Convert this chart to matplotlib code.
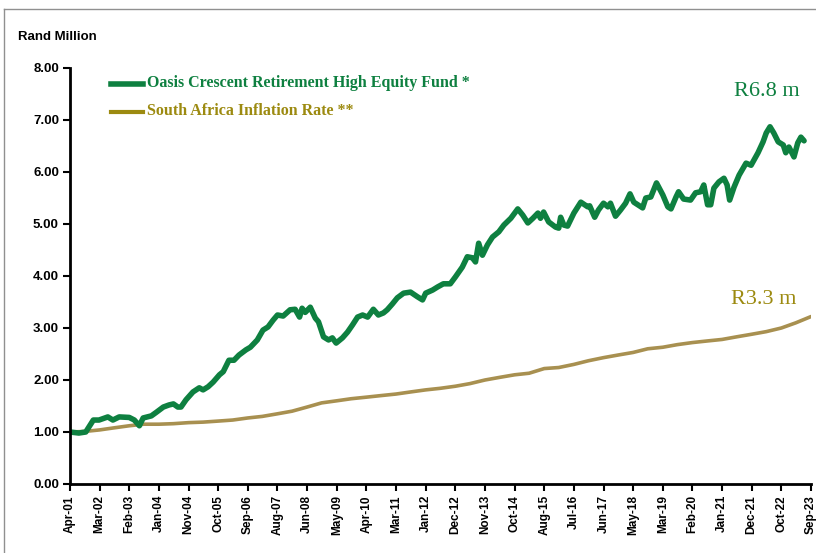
import matplotlib.pyplot as plt
from matplotlib.lines import Line2D

# weekly index (ticks every 47 weeks)
tick_labels = ["Apr-01", "Mar-02", "Feb-03", "Jan-04", "Nov-04", "Oct-05", "Sep-06",
               "Aug-07", "Jun-08", "May-09", "Apr-10", "Mar-11", "Jan-12", "Dec-12",
               "Nov-13", "Oct-14", "Aug-15", "Jul-16", "Jun-17", "May-18", "Mar-19",
               "Feb-20", "Jan-21", "Dec-21", "Oct-22", "Sep-23"]
weeks_per_tick = 47

fund_weeks = [0, 14, 25, 37, 46, 60, 68, 78, 94, 102, 110, 116, 129, 137, 148, 157, 164,
              171, 176, 184, 195, 205, 211, 219, 227, 237, 243, 252, 260, 268, 279, 286,
              297, 306, 314, 322, 329, 338, 349, 357, 364, 368, 373, 381, 389, 394, 402,
              410, 416, 422, 432, 440, 448, 456, 464, 472, 481, 489, 497, 503, 511, 519,
              529, 540, 551, 559, 564, 575, 583, 592, 603, 611, 622, 630, 638, 643, 648,
              654, 662, 670, 680, 688, 699, 710, 718, 726, 734, 742, 746, 751, 759, 770,
              775, 778, 783, 789, 799, 810, 821, 824, 832, 838, 846, 853, 857, 865, 873,
              881, 888, 894, 908, 913, 921, 930, 940, 948, 953, 961, 965, 973, 984, 992,
              1000, 1005, 1011, 1016, 1021, 1029, 1037, 1042, 1046, 1053, 1061, 1072,
              1080, 1091, 1099, 1104, 1110, 1116, 1123, 1131, 1135, 1140, 1148, 1154,
              1159, 1164]
fund_values = [1.00, 0.98, 1.00, 1.23, 1.23, 1.29, 1.23, 1.29, 1.28, 1.23, 1.12, 1.27,
               1.31, 1.38, 1.48, 1.52, 1.54, 1.48, 1.48, 1.62, 1.77, 1.85, 1.81, 1.87,
               1.96, 2.10, 2.16, 2.38, 2.38, 2.48, 2.58, 2.63, 2.77, 2.96, 3.02, 3.15,
               3.25, 3.23, 3.35, 3.36, 3.21, 3.38, 3.30, 3.40, 3.19, 3.12, 2.83, 2.77,
               2.81, 2.71, 2.81, 2.92, 3.06, 3.21, 3.25, 3.21, 3.36, 3.25, 3.29, 3.35,
               3.46, 3.58, 3.67, 3.69, 3.60, 3.54, 3.67, 3.73, 3.79, 3.85, 3.85, 3.98,
               4.17, 4.37, 4.35, 4.27, 4.63, 4.40, 4.60, 4.75, 4.85, 4.98, 5.11, 5.29,
               5.17, 5.02, 5.11, 5.21, 5.11, 5.23, 5.04, 4.94, 4.92, 5.13, 4.98, 4.96,
               5.21, 5.42, 5.33, 5.35, 5.13, 5.27, 5.40, 5.33, 5.40, 5.15, 5.27, 5.40,
               5.58, 5.42, 5.31, 5.50, 5.52, 5.79, 5.56, 5.33, 5.29, 5.52, 5.62, 5.48,
               5.46, 5.60, 5.62, 5.75, 5.37, 5.37, 5.69, 5.81, 5.88, 5.75, 5.46, 5.71,
               5.94, 6.17, 6.13, 6.37, 6.58, 6.75, 6.87, 6.75, 6.58, 6.52, 6.37, 6.48,
               6.29, 6.56, 6.67, 6.60]

cpi_weeks = [0, 23, 47, 70, 94, 117, 141, 164, 188, 211, 235, 258, 282, 305, 329, 352,
             376, 399, 423, 446, 470, 493, 517, 540, 564, 587, 611, 634, 658, 681, 705,
             728, 752, 775, 799, 822, 846, 869, 893, 916, 940, 963, 987, 1010, 1034,
             1057, 1081, 1104, 1128, 1151, 1175]
cpi_values = [1.00, 1.01, 1.04, 1.08, 1.12, 1.15, 1.15, 1.16, 1.18, 1.19, 1.21, 1.23,
              1.27, 1.30, 1.35, 1.40, 1.48, 1.56, 1.60, 1.64, 1.67, 1.70, 1.73, 1.77,
              1.81, 1.84, 1.88, 1.93, 2.00, 2.05, 2.10, 2.13, 2.22, 2.24, 2.30, 2.37,
              2.43, 2.48, 2.53, 2.60, 2.63, 2.68, 2.72, 2.75, 2.78, 2.83, 2.88, 2.93,
              3.00, 3.10, 3.22]

green = "#0e8040"
tan = "#a89050"
olive = "#9c8a10"

fig = plt.figure(figsize=(8.16, 5.53), dpi=100)
ax = fig.add_axes([70 / 816, 1 - 484 / 553, 741 / 816, 416 / 553])

ax.plot(cpi_weeks, cpi_values, color=tan, lw=2.6, solid_capstyle="round")
ax.plot(fund_weeks, fund_values, color=green, lw=4.0, solid_capstyle="round",
        solid_joinstyle="round")

ax.set_xlim(0, weeks_per_tick * (len(tick_labels) - 1))
ax.set_ylim(0, 8)
ax.set_xticks([i * weeks_per_tick for i in range(len(tick_labels))])
ax.set_xticklabels(tick_labels, rotation=90, fontsize=8.5, fontweight="bold",
                   family="Liberation Sans")
ax.set_yticks(range(0, 9))
ax.set_yticklabels([f"{v:.2f}" for v in range(0, 9)], fontsize=9.5, fontweight="bold",
                   family="Liberation Sans")
ax.tick_params(direction="out", length=5, width=1.5, pad=3)
for s in ["top", "right"]:
    ax.spines[s].set_visible(False)
for s in ["left", "bottom"]:
    ax.spines[s].set_linewidth(2)

fig.text(18 / 816, 1 - 37 / 553, "Rand Million", fontsize=9.5, fontweight="bold",
         family="Liberation Sans", va="center")

# legend
fig.add_artist(Line2D([111 / 816, 143 / 816], [1 - 84 / 553] * 2, color=green, lw=4))
fig.add_artist(Line2D([111 / 816, 143 / 816], [1 - 112 / 553] * 2, color=olive, lw=3))
fig.text(147 / 816, 1 - 83 / 553, "Oasis Crescent Retirement High Equity Fund *",
         color=green, fontsize=11.5, fontweight="bold", family="Liberation Serif", va="center")
fig.text(147 / 816, 1 - 111 / 553, "South Africa Inflation Rate **",
         color=olive, fontsize=11.5, fontweight="bold", family="Liberation Serif", va="center")

fig.text(767 / 816, 1 - 92 / 553, "R6.8 m", color=green, fontsize=16,
         family="Liberation Serif", ha="center", va="center")
fig.text(764 / 816, 1 - 300 / 553, "R3.3 m", color=olive, fontsize=16,
         family="Liberation Serif", ha="center", va="center")

# outer frame
fig.add_artist(Line2D([4 / 816, 4 / 816], [0, 1 - 9 / 553], color="#909090", lw=1))
fig.add_artist(Line2D([4 / 816, 1], [1 - 9 / 553] * 2, color="#909090", lw=1))

fig.savefig("out.png", dpi=100)
